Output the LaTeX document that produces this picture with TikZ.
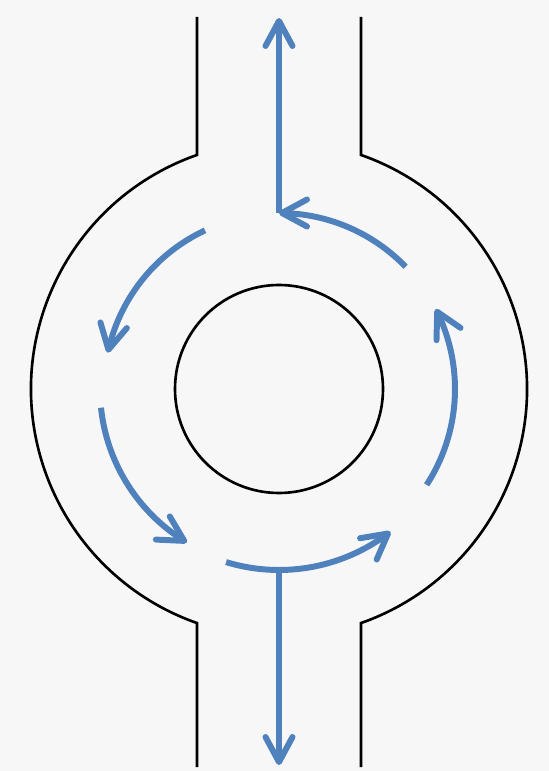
\documentclass[tikz,border=0pt]{standalone}
\usepackage{tikz}
\usetikzlibrary{arrows.meta,bending}
\usepackage{xcolor}
\definecolor{flowblue}{RGB}{79,129,189}
\definecolor{paper}{RGB}{247,247,247}

\begin{document}
\begin{tikzpicture}[wall/.style={line width=1.5pt,line join=miter},
  flow/.style={flowblue,line width=3.4pt,-{Straight Barb[length=5mm,width=5.4mm,round]}}]
\fill[paper] (-5.58,-7.64) rectangle (5.40,7.78);
\useasboundingbox (-5.58,-7.64) rectangle (5.40,7.78);
% chamber walls
\draw[wall] (-1.64,7.44) -- (109.3:4.96) arc (109.3:250.7:4.96) -- (-1.64,-7.56);
\draw[wall] (1.64,7.44) -- (70.7:4.96) arc (70.7:-70.7:4.96) -- (1.64,-7.56);
\draw[wall] (0,0) circle (2.08);
% outlet and inlet junctions
\coordinate (outlet) at (90:3.52);
\coordinate (inlet) at (270:3.62);
\coordinate (up) at (0,7.42);
\coordinate (down) at (0,-7.52);
% flow round the ring
\draw[flow] (44:3.52) arc (44:90:3.52);
\draw[flow] (outlet) -- (up);
\draw[flow] (115:3.5) arc (115:168:3.5);
\draw[flow] (186:3.58) arc (186:239:3.58);
\draw[flow] (253:3.62) arc (253:308:3.62);
\draw[flow] (inlet) -- (down);
\draw[flow] (327:3.52) arc (327:387:3.52);
\end{tikzpicture}
\end{document}
